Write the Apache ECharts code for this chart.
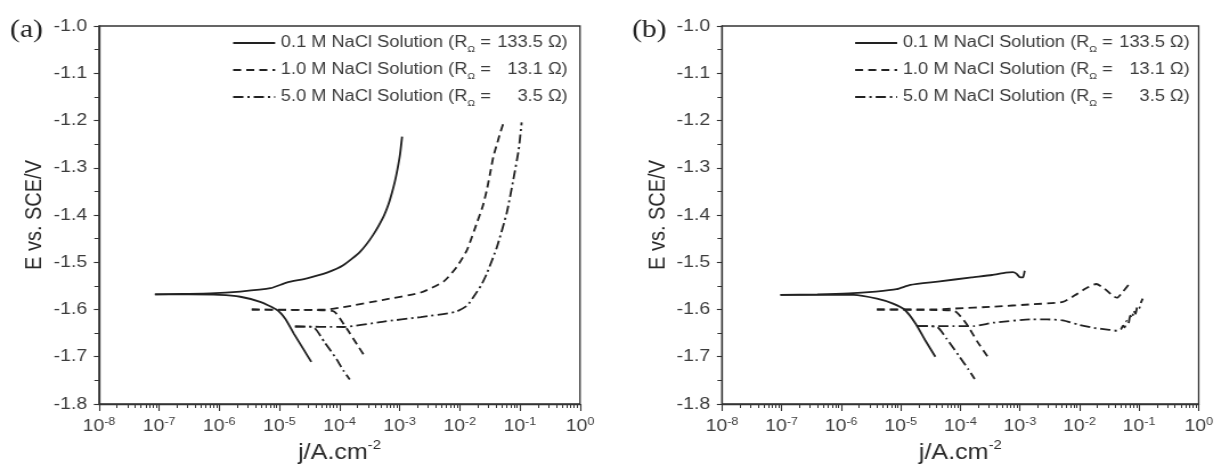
<!DOCTYPE html>
<html>
<head>
<meta charset="utf-8">
<title>Polarization curves in NaCl solutions</title>
<script src="https://cdn.jsdelivr.net/npm/echarts@6/dist/echarts.min.js"></script>
<style>
  html, body { margin: 0; padding: 0; background: #fff; overflow: hidden; }
  #wrap { width: 1216px; height: 471px; overflow: hidden; }
  /* the figure is drawn narrower and widened horizontally */
  #chart { width: 1067px; height: 471px; transform: scaleX(1.14); transform-origin: 0 0; }
</style>
</head>
<body>
<div id="wrap"><div id="chart"></div></div>
<script>
// ---- axis ranges ----
const J_MIN = 1e-8, J_MAX = 1;          // current density, A/cm2 (log axis)
const E_MIN = -1.8, E_MAX = -1.0, E_STEP = 0.1;  // potential vs SCE, V

// ---- legend text ----
const CONC = ['0.1', '1.0', '5.0'];
const R_OHM = ['133.5', '13.1', '3.5'];
const NAMES = CONC.map((c, i) => c + ' M NaCl Solution (R\u03a9 = ' + R_OHM[i] + ' \u03a9)');

// ---- (a) measured curves: [j (A/cm2), E (V)] ----
const A_01_ANODIC = [[8.5e-8,-1.568],[2.5e-7,-1.567],[7.1e-7,-1.566],[2.24e-6,-1.562],[7.1e-6,-1.555],[1.32e-5,-1.543],[2.88e-5,-1.534],[6.2e-5,-1.522],[1.17e-4,-1.506],[2.19e-4,-1.478],[3.63e-4,-1.442],[5.37e-4,-1.404],[6.5e-4,-1.378],[7.41e-4,-1.354],[8.3e-4,-1.330],[9.2e-4,-1.303],[1.02e-3,-1.270],[1.10e-3,-1.234]];
const A_01_CATHODIC = [[8.5e-8,-1.568],[3.16e-7,-1.568],[1.0e-6,-1.569],[2.24e-6,-1.573],[4.79e-6,-1.584],[8.91e-6,-1.600],[1.26e-5,-1.620],[1.74e-5,-1.651],[2.51e-5,-1.684],[3.39e-5,-1.711]];
const A_10_ANODIC = [[3.47e-6,-1.600],[1.58e-5,-1.601],[6.17e-5,-1.600],[1.17e-4,-1.595],[5.13e-4,-1.580],[2.24e-3,-1.564],[5.37e-3,-1.541],[8.91e-3,-1.510],[1.32e-2,-1.474],[1.91e-2,-1.418],[2.4e-2,-1.382],[2.82e-2,-1.347],[3.2e-2,-1.312],[3.63e-2,-1.276],[4.2e-2,-1.248],[4.68e-2,-1.227],[5.37e-2,-1.204]];
const A_10_CATHODIC = [[3.47e-6,-1.600],[3.16e-5,-1.601],[7.59e-5,-1.603],[8.91e-5,-1.609],[1.38e-4,-1.644],[2.0e-4,-1.676],[2.69e-4,-1.701]];
const A_50_ANODIC = [[1.82e-5,-1.636],[1.17e-4,-1.637],[5.13e-4,-1.626],[2.24e-3,-1.616],[8.51e-3,-1.605],[1.32e-2,-1.592],[1.70e-2,-1.573],[2.24e-2,-1.550],[2.82e-2,-1.524],[4.17e-2,-1.467],[6.03e-2,-1.396],[7.76e-2,-1.326],[9.55e-2,-1.262],[1.07e-1,-1.204]];
const A_50_CATHODIC = [[1.82e-5,-1.636],[3.63e-5,-1.637],[5.62e-5,-1.669],[8.91e-5,-1.705],[1.17e-4,-1.730],[1.48e-4,-1.748]];

// ---- (b) measured curves: [j (A/cm2), E (V)] ----
const B_01_ANODIC = [[9.55e-8,-1.569],[3.98e-7,-1.568],[1.35e-6,-1.566],[3.80e-6,-1.562],[8.51e-6,-1.557],[1.45e-5,-1.548],[4.17e-5,-1.541],[1.55e-4,-1.532],[3.39e-4,-1.527],[5.75e-4,-1.522],[7.59e-4,-1.521],[8.71e-4,-1.524],[9.77e-4,-1.531],[1.12e-3,-1.532],[1.20e-3,-1.518]];
const B_01_CATHODIC = [[9.55e-8,-1.569],[3.98e-7,-1.569],[1.62e-6,-1.569],[3.98e-6,-1.577],[7.24e-6,-1.587],[1.15e-5,-1.600],[1.78e-5,-1.630],[2.57e-5,-1.665],[3.80e-5,-1.700]];
const B_10_ANODIC = [[3.98e-6,-1.600],[3.16e-5,-1.600],[7.94e-5,-1.598],[3.55e-4,-1.594],[1.58e-3,-1.589],[5.25e-3,-1.584],[8.32e-3,-1.570],[1.29e-2,-1.555],[1.91e-2,-1.546],[2.57e-2,-1.555],[3.72e-2,-1.572],[4.27e-2,-1.575],[5.37e-2,-1.562],[6.61e-2,-1.548]];
const B_10_CATHODIC = [[3.98e-6,-1.600],[3.16e-5,-1.601],[7.94e-5,-1.603],[1.26e-4,-1.630],[1.95e-4,-1.669],[2.88e-4,-1.700]];
const B_50_ANODIC = [[1.91e-5,-1.635],[7.94e-5,-1.635],[1.70e-4,-1.635],[3.55e-4,-1.628],[1.58e-3,-1.621],[2.88e-3,-1.621],[5.25e-3,-1.623],[9.55e-3,-1.632],[1.74e-2,-1.639],[3.16e-2,-1.643],[4.27e-2,-1.645],[5.01e-2,-1.641],[5.37e-2,-1.634],[5.75e-2,-1.638],[6.17e-2,-1.624],[6.61e-2,-1.630],[7.08e-2,-1.613],[7.59e-2,-1.618],[8.13e-2,-1.603],[8.71e-2,-1.609],[9.33e-2,-1.594],[1.00e-1,-1.598],[1.07e-1,-1.586],[1.15e-1,-1.577]];
const B_50_CATHODIC = [[1.91e-5,-1.635],[4.07e-5,-1.637],[5.89e-5,-1.662],[9.33e-5,-1.697],[1.35e-4,-1.726],[1.74e-4,-1.747]];

// ---- layout & style ----
const SX = 1.14;                 // horizontal widening applied by CSS
const fx = v => v / SX;          // figure px -> canvas px (horizontal)
const FONT = '"Liberation Sans", Arial, Helvetica, sans-serif';
const SERIF = '"Liberation Serif", "Times New Roman", serif';
const AXIS_COLOR = '#333';
const TEXT_COLOR = '#3c3c3c';
const CURVE_COLOR = '#222';
const DASHES = ['solid', [7, 4.5], [9, 3.5, 2, 3.5]];

// log-spaced minor tick positions (2..9 within each decade), in log10 units
const MINOR_LOG = [];
for (let n = Math.log10(J_MIN); n < Math.log10(J_MAX); n++) {
  for (let k = 2; k < 10; k++) MINOR_LOG.push(n + Math.log10(k));
}

const PANELS = [
  { tag: '(a)', left: 99, width: 481, tagLeft: 10, legendLeft: 232,
    curves: [[A_01_ANODIC, A_01_CATHODIC], [A_10_ANODIC, A_10_CATHODIC], [A_50_ANODIC, A_50_CATHODIC]] },
  { tag: '(b)', left: 722, width: 479, tagLeft: 632, legendLeft: 854,
    curves: [[B_01_ANODIC, B_01_CATHODIC], [B_10_ANODIC, B_10_CATHODIC], [B_50_ANODIC, B_50_CATHODIC]] }
];

const grids = [], xAxes = [], yAxes = [], series = [], legends = [], graphics = [];

PANELS.forEach((p, g) => {
  grids.push({
    left: fx(p.left), width: fx(p.width), top: 26, height: 378,
    show: true, borderColor: AXIS_COLOR, borderWidth: 1.3, backgroundColor: 'transparent'
  });

  // main logarithmic current axis
  xAxes.push({
    type: 'log', logBase: 10, gridIndex: g, min: J_MIN, max: J_MAX, splitNumber: 8, position: 'bottom',
    axisLine: { show: true, onZero: false, lineStyle: { color: AXIS_COLOR, width: 1.3 } },
    axisTick: { show: true, length: 7, lineStyle: { color: AXIS_COLOR, width: 1.1 } },
    minorTick: { show: false }, splitLine: { show: false },
    axisLabel: {
      margin: 12,
      formatter: v => '{b|10}{e|' + Math.round(Math.log10(v)) + '}',
      rich: {
        b: { fontFamily: FONT, fontSize: 17, color: TEXT_COLOR, lineHeight: 20 },
        e: { fontFamily: FONT, fontSize: 11, color: TEXT_COLOR, lineHeight: 12, verticalAlign: 'top' }
      }
    },
    name: '{t|j/A.cm}{s|-2}', nameLocation: 'middle', nameGap: 34,
    nameTextStyle: {
      rich: {
        t: { fontFamily: FONT, fontSize: 22, color: '#2a2a2a', lineHeight: 28 },
        s: { fontFamily: FONT, fontSize: 13, color: '#2a2a2a', lineHeight: 14, verticalAlign: 'top' }
      }
    }
  });

  // companion axis carrying the log minor ticks
  xAxes.push({
    type: 'value', gridIndex: g, min: Math.log10(J_MIN), max: Math.log10(J_MAX), position: 'bottom',
    axisLine: { show: false, onZero: false }, axisLabel: { show: false }, splitLine: { show: false },
    axisTick: { show: true, length: 4, customValues: MINOR_LOG, lineStyle: { color: AXIS_COLOR, width: 1 } }
  });

  yAxes.push({
    type: 'value', gridIndex: g, min: E_MIN, max: E_MAX, interval: E_STEP,
    axisLine: { show: true, onZero: false, lineStyle: { color: AXIS_COLOR, width: 1.3 } },
    axisTick: { show: true, length: 4.5, lineStyle: { color: AXIS_COLOR, width: 1.1 } },
    minorTick: { show: true, splitNumber: 2, length: 4, lineStyle: { color: AXIS_COLOR, width: 1 } },
    splitLine: { show: false }, minorSplitLine: { show: false },
    axisLabel: { margin: 10.5, fontFamily: FONT, fontSize: 17, color: TEXT_COLOR, formatter: v => v.toFixed(1) },
    name: 'E vs. SCE/V', nameLocation: 'middle', nameGap: 46,
    nameTextStyle: { fontFamily: FONT, fontSize: 20, color: '#2a2a2a' }
  });

  p.curves.forEach((branches, i) => {
    branches.forEach(points => {
      series.push({
        name: NAMES[i], type: 'line', xAxisIndex: 2 * g, yAxisIndex: g,
        data: points, symbol: 'none', showSymbol: false, smooth: 0.18, silent: true,
        itemStyle: { color: CURVE_COLOR },
        lineStyle: { color: CURVE_COLOR, width: 1.8, type: DASHES[i] }
      });
    });
  });

  legends.push({
    orient: 'vertical', left: fx(p.legendLeft), top: 32, padding: 0,
    itemWidth: fx(42), itemHeight: 14, itemGap: 5, selectedMode: false,
    itemStyle: { opacity: 0 },
    data: NAMES,
    formatter: name => {
      const i = NAMES.indexOf(name);
      return '{t|' + CONC[i] + ' M NaCl Solution (R}{s|\u03a9}{t| = }{v|' + R_OHM[i] + ' \u03a9)}';
    },
    textStyle: {
      fontFamily: FONT, fontSize: 16, color: TEXT_COLOR, lineHeight: 22,
      rich: {
        t: { fontFamily: FONT, fontSize: 16, color: TEXT_COLOR, lineHeight: 22 },
        s: { fontFamily: FONT, fontSize: 9, color: TEXT_COLOR, lineHeight: 10, verticalAlign: 'bottom' },
        v: { fontFamily: FONT, fontSize: 16, color: TEXT_COLOR, lineHeight: 22, width: 63, align: 'right' }
      }
    }
  });

  graphics.push({
    type: 'text', left: fx(p.tagLeft), top: 17, silent: true,
    style: { text: p.tag, font: '26px ' + SERIF, fill: '#222' }
  });
});

const chart = echarts.init(document.getElementById('chart'), null, { renderer: 'canvas' });
chart.setOption({
  animation: false,
  backgroundColor: '#fff',
  grid: grids,
  xAxis: xAxes,
  yAxis: yAxes,
  legend: legends,
  series: series,
  graphic: graphics
});
</script>
</body>
</html>
